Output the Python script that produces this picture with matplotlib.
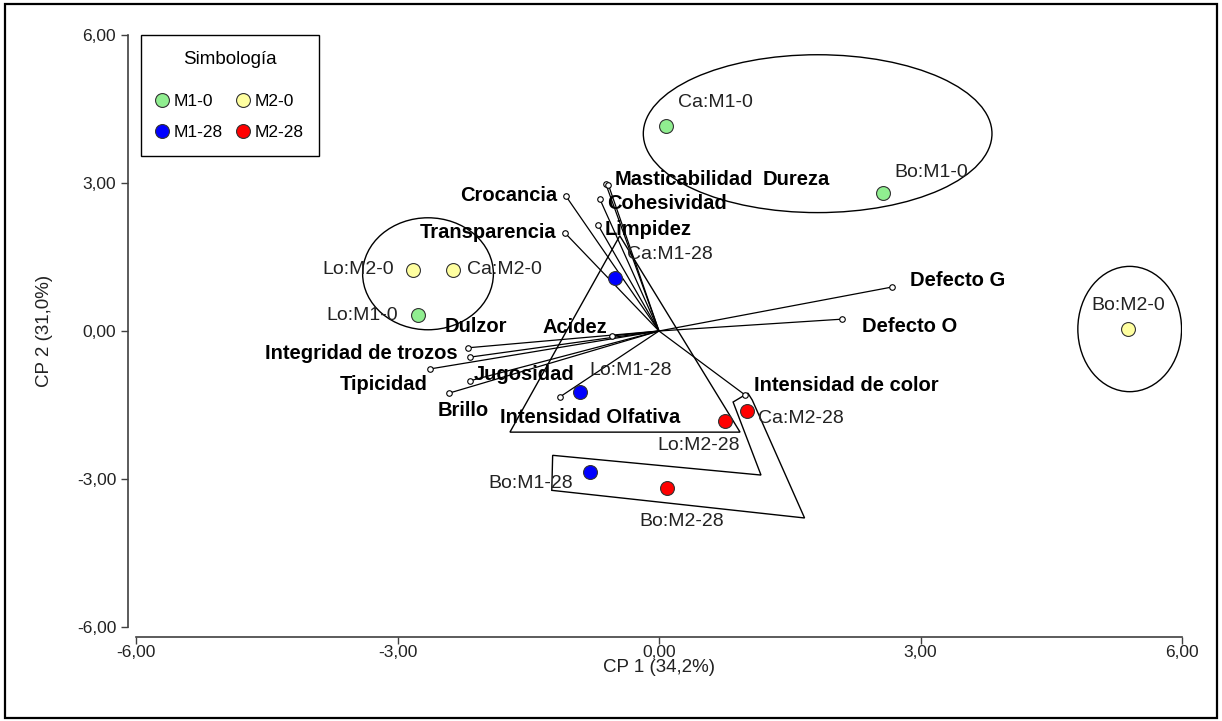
import matplotlib
matplotlib.use("Agg")
import matplotlib.pyplot as plt
from matplotlib.patches import Ellipse, Polygon, Rectangle
from matplotlib.lines import Line2D
from matplotlib.ticker import FuncFormatter

plt.rcParams['font.family'] = ['Liberation Sans', 'DejaVu Sans']

# ---- Scores of the observations on the first two components ----
obs_labels = ['Ca:M1-0', 'Bo:M1-0', 'Lo:M1-0', 'Lo:M2-0', 'Ca:M2-0', 'Bo:M2-0',
              'Ca:M1-28', 'Lo:M1-28', 'Bo:M1-28', 'Lo:M2-28', 'Ca:M2-28', 'Bo:M2-28']
obs_cp1 = [0.08, 2.57, -2.76, -2.82, -2.36, 5.38, -0.50, -0.91, -0.79, 0.76, 1.01, 0.09]
obs_cp2 = [4.16, 2.80, 0.32, 1.24, 1.24, 0.04, 1.08, -1.24, -2.86, -1.83, -1.62, -3.18]
obs_group = ['M1-0', 'M1-0', 'M1-0', 'M2-0', 'M2-0', 'M2-0',
             'M1-28', 'M1-28', 'M1-28', 'M2-28', 'M2-28', 'M2-28']

groups = ['M1-0', 'M2-0', 'M1-28', 'M2-28']
group_colors = ['#90EE90', '#FFFFA0', '#0000FF', '#FF0000']

# ---- Loadings of the sensory attributes ----
var_labels = ['Crocancia', 'Transparencia', 'Masticabilidad', 'Dureza', 'Cohesividad',
              'Limpidez', 'Defecto G', 'Defecto O', 'Dulzor', 'Integridad de trozos',
              'Tipicidad', 'Jugosidad', 'Brillo', 'Intensidad Olfativa', 'Acidez',
              'Intensidad de color']
var_cp1 = [-1.07, -1.08, -0.61, -0.58, -0.68, -0.70, 2.67, 2.10, -2.19, -2.17,
           -2.63, -2.17, -2.41, -1.14, -0.54, 0.99]
var_cp2 = [2.74, 1.99, 2.98, 2.96, 2.68, 2.15, 0.89, 0.24, -0.34, -0.53,
           -0.77, -1.01, -1.26, -1.34, -0.10, -1.30]

# ---- Cluster outlines ----
cluster_ellipses = [  # (cp1 centre, cp2 centre, width, height)
    (1.82, 4.00, 4.00, 3.20),
    (-2.65, 1.16, 1.50, 2.27),
    (5.40, 0.04, 1.19, 2.54),
]
cluster_triangle = [(-0.45, 1.93), (-1.71, -2.05), (0.93, -2.05)]
cluster_hull = [(-1.22, -2.52), (1.17, -2.92), (0.85, -1.44), (1.02, -1.26),
                (1.07, -1.40), (1.67, -3.79), (-1.23, -3.23)]

ticks = [-6, -3, 0, 3, 6]

# label placement (pixel offsets from the mark, horizontal alignment)
obs_offsets = {
    'Ca:M1-0': (12, 23, 'left'), 'Bo:M1-0': (11, 20, 'left'),
    'Lo:M1-0': (-20, 0, 'right'), 'Lo:M2-0': (-19, 0, 'right'),
    'Ca:M2-0': (14, 0, 'left'), 'Bo:M2-0': (0, 24, 'center'),
    'Ca:M1-28': (12, 23, 'left'), 'Lo:M1-28': (10, 22, 'left'),
    'Bo:M1-28': (-17, -11, 'right'), 'Lo:M2-28': (15, -24, 'right'),
    'Ca:M2-28': (11, -8, 'left'), 'Bo:M2-28': (15, -34, 'center'),
}
var_offsets = {
    'Crocancia': (-8, 0, 'right'), 'Transparencia': (-8, 0, 'right'),
    'Masticabilidad': (9, 4, 'left'), 'Dureza': (154, 5, 'left'),
    'Cohesividad': (7, -5, 'left'), 'Limpidez': (7, -5, 'left'),
    'Defecto G': (18, 7, 'left'), 'Defecto O': (20, -7, 'left'),
    'Dulzor': (-23, 21, 'left'), 'Integridad de trozos': (-12, 4, 'right'),
    'Tipicidad': (-2, -16, 'right'), 'Jugosidad': (4, 6, 'left'),
    'Brillo': (-11, -17, 'left'), 'Intensidad Olfativa': (-60, -20, 'left'),
    'Acidez': (-69, 8, 'left'), 'Intensidad de color': (9, 10, 'left'),
}

W, H = 1222, 721
fig = plt.figure(figsize=(W / 100, H / 100), dpi=100)
ax = fig.add_axes([136 / W, 1 - 627 / H, 1046 / W, 592 / H])
ax.set_xlim(-6, 6)
ax.set_ylim(-6, 6)

# attribute vectors
for name, x, y in zip(var_labels, var_cp1, var_cp2):
    ax.plot([0, x], [0, y], color='black', lw=0.9, zorder=2)
    ax.plot([x], [y], marker='o', ms=4, mfc='white', mec='black', mew=0.8, zorder=3)
    dx, dy, ha = var_offsets[name]
    ax.annotate(name, (x, y), xytext=(dx, dy), textcoords='offset pixels',
                ha=ha, va='center', fontsize=14.5, fontweight='bold', zorder=4)

# cluster outlines
for cx, cy, w, h in cluster_ellipses:
    ax.add_patch(Ellipse((cx, cy), w, h, fill=False, ec='black', lw=1.0, zorder=2))
ax.add_patch(Polygon(cluster_triangle, closed=True, fill=False, ec='black', lw=1.0, zorder=2))
ax.add_patch(Polygon(cluster_hull, closed=True, fill=False, ec='black', lw=1.0, zorder=2))

# observations
color_of = dict(zip(groups, group_colors))
for name, x, y, g in zip(obs_labels, obs_cp1, obs_cp2, obs_group):
    ax.plot([x], [y], marker='o', ms=10, mfc=color_of[g], mec='#333333', mew=0.8, zorder=5)
    dx, dy, ha = obs_offsets[name]
    ax.annotate(name, (x, y), xytext=(dx, dy), textcoords='offset pixels',
                ha=ha, va='center', fontsize=14, color='#222222', zorder=6)

# axes styling
for side in ('top', 'right'):
    ax.spines[side].set_visible(False)
ax.spines['left'].set_position(('outward', 5.8))
ax.spines['bottom'].set_position(('outward', 7.2))
ax.spines['left'].set_bounds(-6, 6)
ax.spines['bottom'].set_bounds(-6, 6)
for side in ('left', 'bottom'):
    ax.spines[side].set_color('#404040')
    ax.spines[side].set_linewidth(1.2)
ax.set_xticks(ticks)
ax.set_yticks(ticks)
fmt = FuncFormatter(lambda v, p: f"{v:.2f}".replace('.', ','))
ax.xaxis.set_major_formatter(fmt)
ax.yaxis.set_major_formatter(fmt)
ax.tick_params(direction='out', length=5, width=1, color='#404040',
               labelsize=12.5, labelcolor='#222222')
ax.tick_params(axis='x', pad=1)
ax.set_xlabel('CP 1 (34,2%)', fontsize=13.5, color='#222222', labelpad=-1)
ax.set_ylabel('CP 2 (31,0%)', fontsize=13.5, color='#222222', labelpad=17)

# legend
handles = [Line2D([], [], ls='none', marker='o', ms=10, mfc=c, mec='#333333', mew=0.8)
           for c in group_colors]
leg = ax.legend([handles[0], handles[2], handles[1], handles[3]],
                ['M1-0', 'M1-28', 'M2-0', 'M2-28'], ncol=2,
                title='Simbología', loc='upper left', bbox_to_anchor=(0.005, 1.0),
                borderaxespad=0, fontsize=12.5, title_fontsize=13.5, frameon=True,
                fancybox=False, edgecolor='black', framealpha=1, borderpad=0.9,
                labelspacing=0.93, handlelength=0.6, handletextpad=0.35,
                columnspacing=0.9)
leg.get_frame().set_linewidth(1.0)
leg._legend_box.sep = 19

# outer frame
fig.add_artist(Rectangle((0.004, 0.004), 0.992, 0.991, transform=fig.transFigure,
                         fill=False, ec='black', lw=1.6))

fig.savefig('out.png', dpi=100)
